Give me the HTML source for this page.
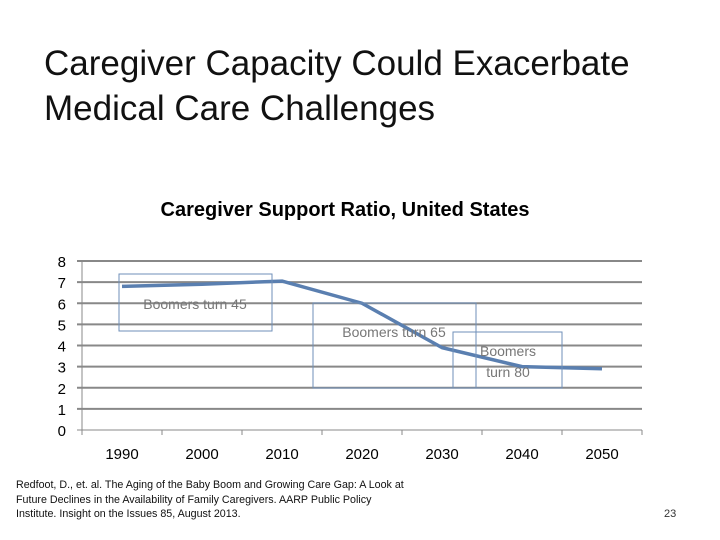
<!DOCTYPE html>
<html><head><meta charset="utf-8"><style>
body{margin:0;width:720px;height:540px;background:#fff;font-family:"Liberation Sans",sans-serif;overflow:hidden;position:relative}
.t{position:absolute;left:44px;top:41px;font-size:35px;line-height:45px;color:#111}
.ct{position:absolute;left:0;width:690px;top:199px;text-align:center;font-weight:bold;font-size:20px}
.fn{position:absolute;left:16px;top:478px;font-size:10.7px;line-height:14.5px;color:#111}
.pg{position:absolute;left:664px;top:508px;font-size:11px;color:#333}
</style></head><body>
<div class="t">Caregiver Capacity Could Exacerbate<br>Medical Care Challenges</div>
<div class="ct">Caregiver Support Ratio, United States</div>
<svg id="c" width="720" height="540" style="position:absolute;left:0;top:0"></svg>
<div class="fn">Redfoot, D., et. al. The Aging of the Baby Boom and Growing Care Gap: A Look at<br>Future Declines in the Availability of Family Caregivers. AARP Public Policy<br>Institute. Insight on the Issues 85, August 2013.</div>
<div class="pg">23</div>
<script>
const categories=["1990","2000","2010","2020","2030","2040","2050"];
const values=[6.8,6.9,7.05,6.0,3.9,3.0,2.9];
const yTicks=[0,1,2,3,4,5,6,7,8];
const svg=document.getElementById('c');const NS='http://www.w3.org/2000/svg';
const x0=82,x1=642,y0=430,y8=261;
const xs=i=>x0+(i+0.5)*(x1-x0)/categories.length;
const ys=v=>y0-(v/8)*(y0-y8);
function mk(t,a,txt){const e=document.createElementNS(NS,t);for(const k in a)e.setAttribute(k,a[k]);if(txt!==undefined)e.textContent=txt;svg.appendChild(e);return e;}
yTicks.forEach(v=>{
 const g=mk('line',{x1:x0-5,x2:x1,y1:ys(v),y2:ys(v),stroke:'#888','stroke-width':v===0?1:2});
 
 
 const l=mk('text',{x:66,y:ys(v)+6,'font-size':15,'text-anchor':'end'},String(v));
 
 
});
mk('line',{x1:x0,x2:x0,y1:y8,y2:y0,stroke:'#888'});
for(let i=0;i<=categories.length;i++){const xx=x0+i*(x1-x0)/categories.length;mk('line',{x1:xx,x2:xx,y1:y0,y2:y0+5,stroke:'#888'});}
categories.forEach((c,i)=>{
 const l=mk('text',{x:xs(i),y:459,'font-size':15,'text-anchor':'middle'},c);
 
 
});
const p=mk('polyline',{points:values.map((v,i)=>xs(i)+','+ys(v)).join(' '),fill:'none',stroke:'#5a7fb0','stroke-width':3.5,'stroke-linejoin':'round'});


const boxes=[[119,274,153,57,["Boomers turn 45"],195,309],[313,303,163,85,["Boomers turn 65"],394,337],[453,332,109,56,["Boomers","turn 80"],508,356]];
boxes.forEach((b,k)=>{
 const r=mk('rect',{x:b[0],y:b[1],width:b[2],height:b[3],fill:'none',stroke:'#6f8fb8','stroke-width':1});
 
 
 b[4].forEach((s,j)=>{const t=mk('text',{x:b[5],y:b[6]+j*21,'font-size':14,fill:'#777','text-anchor':'middle'},s);
 
 });
});
</script>
</body></html>
